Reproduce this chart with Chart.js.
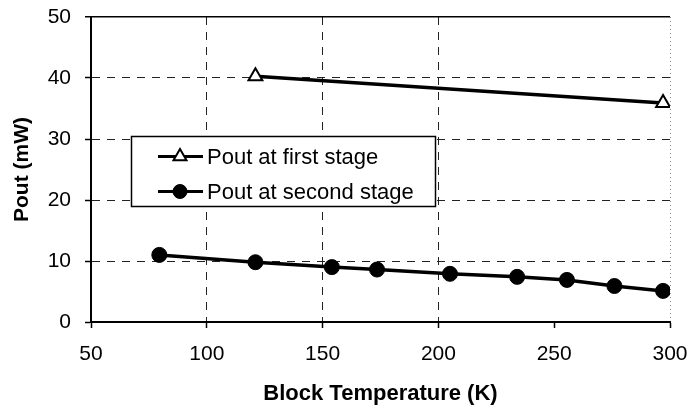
<!DOCTYPE html>
<html><head><meta charset="utf-8">
<script src="https://cdn.jsdelivr.net/npm/chart.js@4/dist/chart.umd.min.js"></script>
<style>html,body{margin:0;padding:0;background:#fff;} canvas{display:block;}</style>
</head><body>
<canvas id="c" width="689" height="408"></canvas>
<script>
// ---- data ----
const tempFirst  = [121, 297];
const poutFirst  = [40.3, 35.9];
const tempSecond = [79.5, 121, 154, 173.5, 205, 234, 255.5, 276, 297];
const poutSecond = [11.0, 9.8, 9.0, 8.6, 7.9, 7.4, 6.9, 5.9, 5.1];
const seriesNames = ['Pout at first stage', 'Pout at second stage'];
const xTitle = 'Block Temperature (K)';
const yTitle = 'Pout (mW)';
const xTicks = [50, 100, 150, 200, 250, 300];
const yTicks = [0, 10, 20, 30, 40, 50];

const FONT = '"Liberation Sans", Arial, Helvetica, sans-serif';
const toPts = (xs, ys) => xs.map((x, i) => ({x: x, y: ys[i]}));

const boxLegend = {
  id: 'boxLegend',
  afterDatasetsDraw(chart) {
    const ctx = chart.ctx;
    const L = 131.5, T = 136.5, W = 304, H = 70;
    ctx.save();
    ctx.fillStyle = '#fff';
    ctx.fillRect(L, T, W, H);
    ctx.strokeStyle = '#000';
    ctx.lineWidth = 1.5;
    ctx.strokeRect(L, T, W, H);
    const rows = [T + 20, T + 55];
    chart.data.datasets.forEach((ds, i) => {
      const y = rows[i];
      ctx.strokeStyle = ds.borderColor;
      ctx.lineWidth = 3;
      ctx.setLineDash([]);
      ctx.beginPath(); ctx.moveTo(158, y); ctx.lineTo(203, y); ctx.stroke();
      ctx.fillStyle = ds.pointBackgroundColor;
      ctx.strokeStyle = ds.pointBorderColor;
      ctx.lineWidth = ds.pointBorderWidth;
      Chart.helpers.drawPoint(ctx, {pointStyle: ds.pointStyle, radius: ds.pointRadius - 0.5, rotation: 0, borderWidth: ds.pointBorderWidth}, 180, y);
      ctx.fillStyle = '#000';
      ctx.font = '22px ' + FONT;
      ctx.textBaseline = 'middle';
      ctx.textAlign = 'left';
      ctx.fillText(ds.label, 207, y + 1);
    });
    ctx.restore();
  }
};

new Chart(document.getElementById('c'), {
  type: 'scatter',
  data: {
    datasets: [
      {
        label: seriesNames[0],
        data: toPts(tempFirst, poutFirst),
        showLine: true,
        borderColor: '#000',
        borderWidth: 3.5,
        pointStyle: 'triangle',
        pointRadius: 8,
        pointBackgroundColor: '#fff',
        pointBorderColor: '#000',
        pointBorderWidth: 2,
        pointHoverRadius: 8
      },
      {
        label: seriesNames[1],
        data: toPts(tempSecond, poutSecond),
        showLine: true,
        borderColor: '#000',
        borderWidth: 3.5,
        pointStyle: 'circle',
        pointRadius: 7.5,
        pointBackgroundColor: '#000',
        pointBorderColor: '#000',
        pointBorderWidth: 1,
        pointHoverRadius: 7.5
      }
    ]
  },
  options: {
    responsive: false,
    animation: false,
    devicePixelRatio: 1,
    layout: {padding: {top: 17, right: 19, left: 0, bottom: 0}},
    plugins: {legend: {display: false}, tooltip: {enabled: false}},
    scales: {
      x: {
        type: 'linear',
        min: xTicks[0], max: xTicks[xTicks.length - 1],
        afterBuildTicks: s => { s.ticks = xTicks.map(v => ({value: v})); },
        afterFit: s => { s.height = 86; s.paddingLeft = 0; s.paddingRight = 0; },
        ticks: {color: '#000', font: {family: FONT, size: 21}, padding: 14, maxRotation: 0},
        grid: {
          color: c => {
            const v = c.tick && c.tick.value;
            if (v === 50 || v === 250) return 'rgba(0,0,0,0)';
            if (v === 300) return '#8a8a8a';
            return '#222';
          },
          lineWidth: 1,
          tickLength: 6,
          tickColor: '#000',
          tickWidth: 1.5,
          tickBorderDash: []
        },
        border: {
          color: '#000', width: 2,
          dash: c => (c.tick && c.tick.value === 300) ? [1, 3] : [8, 7]
        },
        title: {display: true, text: xTitle, color: '#000', font: {family: FONT, size: 22, weight: 'bold'}, padding: {top: 0, bottom: 1}}
      },
      y: {
        type: 'linear',
        min: yTicks[0], max: yTicks[yTicks.length - 1],
        afterBuildTicks: s => { s.ticks = yTicks.map(v => ({value: v})); },
        afterFit: s => { s.width = 91; s.paddingTop = 0; s.paddingBottom = 0; },
        ticks: {color: '#000', font: {family: FONT, size: 21}, padding: 14},
        grid: {
          color: c => {
            const v = c.tick && c.tick.value;
            if (v === 0) return 'rgba(0,0,0,0)';
            if (v === 50) return '#000';
            return '#222';
          },
          lineWidth: c => (c.tick && c.tick.value === 50) ? 1.5 : 1,
          tickLength: 6,
          tickColor: '#000',
          tickWidth: 1.5,
          tickBorderDash: []
        },
        border: {
          color: '#000', width: 2,
          dash: c => (c.tick && c.tick.value === 50) ? [] : [8, 7]
        },
        title: {display: true, text: yTitle, color: '#000', font: {family: FONT, size: 21, weight: 'bold'}, padding: {top: 10, bottom: 0}}
      }
    }
  },
  plugins: [boxLegend]
});
</script>
</body></html>
